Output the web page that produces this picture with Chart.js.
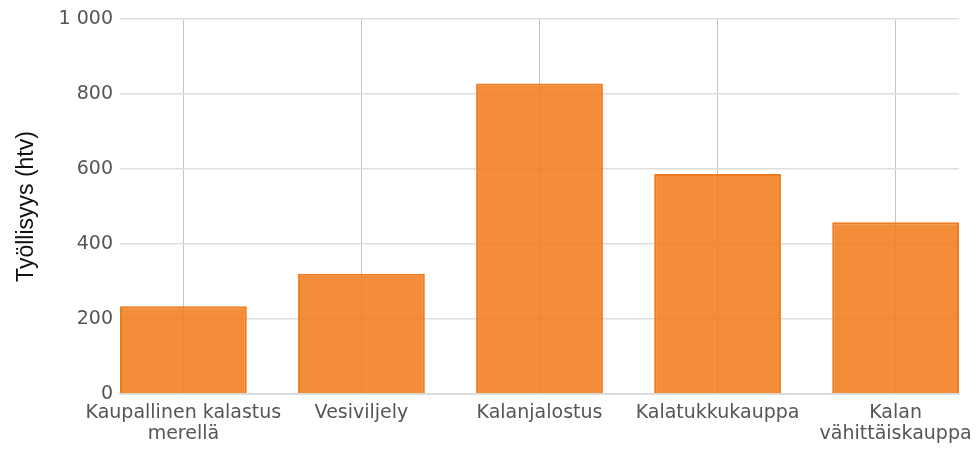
<!DOCTYPE html>
<html>
<head>
<meta charset="utf-8">
<script src="https://cdn.jsdelivr.net/npm/chart.js@4/dist/chart.umd.min.js"></script>
<style>
    html, body { margin: 0; padding: 0; background: #fff; }
    #wrap { width: 979px; height: 449px; }
</style>
</head>
<body>
<div id="wrap"><canvas id="tyollisyys"></canvas></div>
<script>
// Data
const categories = [
    ['Kaupallinen kalastus', 'merellä'],
    'Vesiviljely',
    'Kalanjalostus',
    'Kalatukkukauppa',
    ['Kalan', 'vähittäiskauppa']
];
const values = [234, 321, 828, 587, 458];
const yTicks = [0, 200, 400, 600, 800, 1000];

const tickFont = { family: 'DejaVu Sans', size: 19, lineHeight: 1.1 };

const ctx = document.getElementById('tyollisyys');
const chart = new Chart(ctx, {
    type: 'bar',
    data: {
        datasets: [{
            data: values.map((v, i) => ({ x: i, y: v })),
            backgroundColor: 'rgba(242, 125, 30, 0.88)',
            borderColor: 'rgba(240, 122, 28, 1)',
            borderWidth: 2,
            barPercentage: 0.712,
            categoryPercentage: 1
        }]
    },
    options: {
        responsive: true,
        maintainAspectRatio: false,
        animation: false,
        layout: { padding: { top: 19, right: 20, left: 0, bottom: 0 } },
        plugins: {
            legend: { display: false },
            tooltip: { enabled: false }
        },
        scales: {
            x: {
                type: 'linear',
                offset: false,
                min: -0.356,
                max: categories.length - 1 + 0.356,
                grid: { color: 'rgba(196, 196, 196, 1)', lineWidth: 1, drawTicks: false, offset: false },
                border: { color: '#dddddd', width: 2 },
                ticks: {
                    stepSize: 1,
                    includeBounds: false,
                    autoSkip: false,
                    maxRotation: 0,
                    padding: 9,
                    color: '#555555',
                    font: tickFont,
                    callback: (v) => categories[v]
                },
                afterFit: (scale) => {
                    scale.height = 55;
                    scale.paddingLeft = 0;
                    scale.paddingRight = 0;
                }
            },
            y: {
                min: 0,
                max: 1000,
                grid: { color: 'rgba(222, 222, 222, 1)', lineWidth: 1.5, drawTicks: false },
                border: { display: false },
                afterBuildTicks: (scale) => { scale.ticks = yTicks.map(v => ({ value: v })); },
                ticks: {
                    padding: 7,
                    color: '#555555',
                    font: tickFont,
                    callback: (v) => String(v).replace(/\B(?=(\d{3})+(?!\d))/g, '\u00a0')
                },
                title: {
                    display: true,
                    text: 'Työllisyys (htv)',
                    color: '#111111',
                    font: { family: 'Liberation Sans', size: 23 },
                    padding: { top: 13, bottom: 0 }
                },
                afterFit: (scale) => { scale.width = 120; }
            }
        }
    }
});
</script>
</body>
</html>
